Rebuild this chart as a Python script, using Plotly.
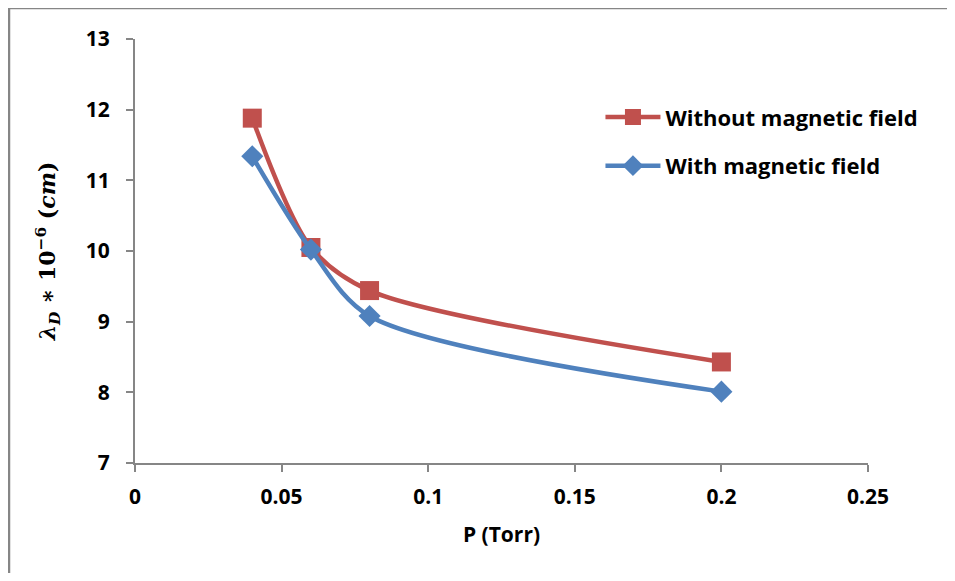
import plotly.graph_objects as go

pressure = [0.04, 0.06, 0.08, 0.2]
without_field = [11.88, 10.05, 9.44, 8.43]
with_field = [11.34, 10.02, 9.08, 8.01]

x_ticks = [0, 0.05, 0.1, 0.15, 0.2, 0.25]
y_ticks = [7, 8, 9, 10, 11, 12, 13]

RED = "#C0504D"
BLUE = "#4F81BD"
AXIS = "#868686"
FONT = "Open Sans"

fig = go.Figure()
fig.add_trace(go.Scatter(
    x=pressure, y=without_field, name="Without magnetic field",
    mode="lines+markers", line=dict(color=RED, width=4.5, shape="spline", smoothing=0.85),
    marker=dict(symbol="square", size=19, color=RED), legendgroup="a"))
fig.add_trace(go.Scatter(
    x=pressure, y=with_field, name="With magnetic field",
    mode="lines+markers", line=dict(color=BLUE, width=4.5, shape="spline", smoothing=0.85),
    marker=dict(symbol="diamond", size=17, color=BLUE), legendgroup="b"))

bx = (9 - 135) / 733
by = 1 + (39 - 8) / 424

fig.update_layout(
    width=939, height=565,
    margin=dict(l=127, r=79, t=31, b=110),
    paper_bgcolor="white", plot_bgcolor="white",
    font=dict(family=FONT, color="black", size=20),
    legend=dict(x=0.635, y=0.865, xanchor="left", yanchor="top",
                font=dict(family=FONT, size=22, color="black", weight="bold"),
                tracegroupgap=17, traceorder="grouped", itemwidth=55,
                bgcolor="rgba(0,0,0,0)"),
    xaxis=dict(range=[0, 0.25], tickvals=x_ticks, ticktext=[str(v) for v in x_ticks],
               showline=True, linecolor=AXIS, linewidth=2, ticks="outside",
               tickcolor=AXIS, ticklen=7, tickwidth=2, showgrid=False, zeroline=False,
               ticklabelstandoff=7,
               tickfont=dict(family=FONT, size=21, weight="bold"),
               title=dict(text="P (Torr)", font=dict(family=FONT, size=21, weight="bold"),
                          standoff=18)),
    yaxis=dict(range=[7, 13], tickvals=y_ticks,
               showline=True, linecolor=AXIS, linewidth=2, ticks="outside",
               tickcolor=AXIS, ticklen=7, tickwidth=2, showgrid=False, zeroline=False,
               ticklabelstandoff=12,
               tickfont=dict(family=FONT, size=21, weight="bold"),
               title=dict(text="<i>λ<sub>D</sub></i> ∗ 10<sup>−6</sup> (<i>cm</i>)",
                          font=dict(family="DejaVu Serif", size=22, weight="bold"),
                          standoff=24)),
    shapes=[
        dict(type="line", xref="paper", yref="paper", x0=bx, x1=1.5, y0=by, y1=by,
             line=dict(color=AXIS, width=2.5), layer="below"),
        dict(type="line", xref="paper", yref="paper", x0=bx, x1=bx, y0=-1, y1=by,
             line=dict(color=AXIS, width=2.5), layer="below"),
    ],
)

fig.write_html("out.html")
